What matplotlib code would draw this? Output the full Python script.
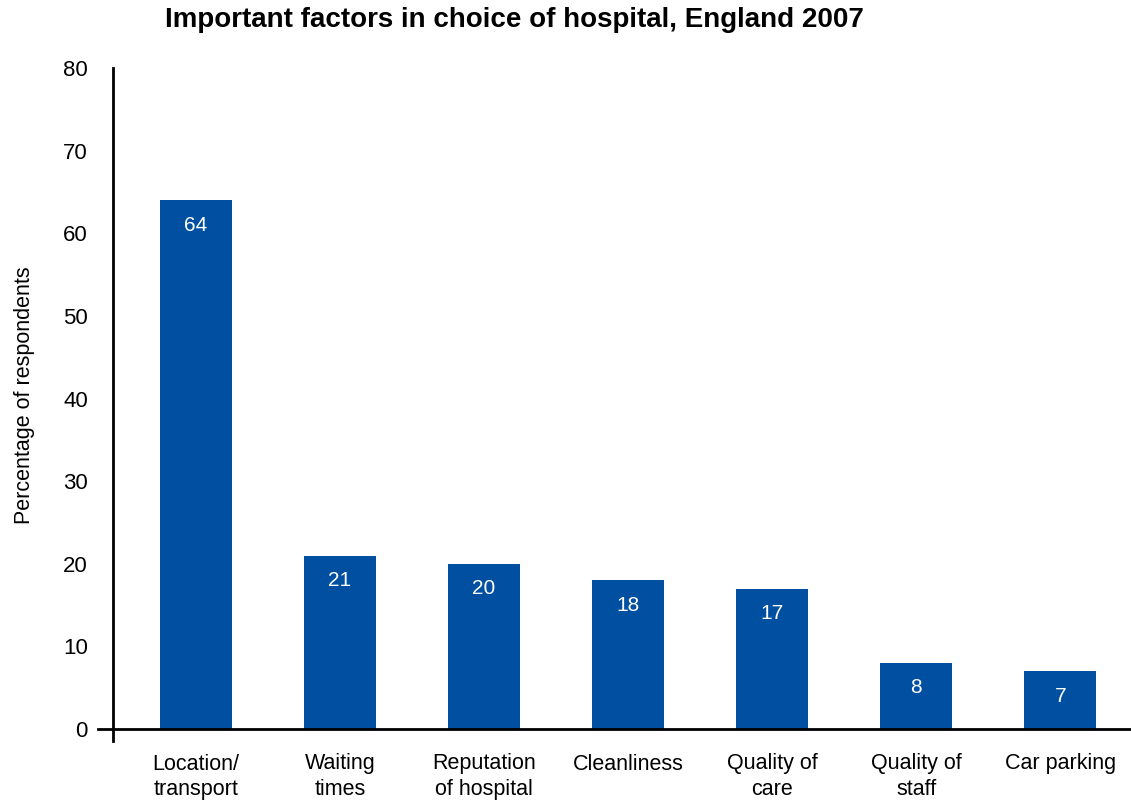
import matplotlib
matplotlib.use("Agg")
import matplotlib.pyplot as plt

categories = ["Location/\ntransport", "Waiting\ntimes", "Reputation\nof hospital",
              "Cleanliness", "Quality of\ncare", "Quality of\nstaff", "Car parking"]
values = [64, 21, 20, 18, 17, 8, 7]
yticks = [0, 10, 20, 30, 40, 50, 60, 70, 80]

plt.rcParams["font.family"] = ["Liberation Sans", "DejaVu Sans"]
bar_color = "#004FA0"

fig = plt.figure(figsize=(11.31, 8.0), dpi=100)
ax = fig.add_axes([113 / 1131, 1 - 741 / 800, 1 - 113 / 1131, (741 - 68) / 800])

x = list(range(len(categories)))
bars = ax.bar(x, values, width=0.5, color=bar_color, zorder=2)

for xi, v in zip(x, values):
    ax.annotate(str(v), (xi, v), xytext=(0, -18), textcoords="offset points",
                ha="center", va="center", color="white", fontsize=15)

ax.set_xlim(-0.576, 6.49)
ax.set_ylim(-1.45, 80)

for s in ax.spines.values():
    s.set_visible(False)
ax.spines["left"].set_visible(True)
ax.spines["left"].set_linewidth(2)
ax.spines["left"].set_bounds(-1.45, 80)

# baseline with a short stub to the left of the vertical axis
ax.plot([-0.68, 6.49], [0, 0], color="black", lw=2, clip_on=False, zorder=3)

ax.set_yticks(yticks)
ax.set_yticklabels([str(t) for t in yticks], fontsize=16)
ax.tick_params(axis="y", length=0, pad=18)
ax.set_xticks(x)
ax.set_xticklabels(categories, fontsize=15.5, linespacing=1.3)
ax.tick_params(axis="x", length=0, pad=9)

fig.text(25 / 1131, 1 - 395 / 800, "Percentage of respondents", rotation=90,
         ha="center", va="center", fontsize=15.5)

fig.text(514 / 1131, 1 - 20 / 800, "Important factors in choice of hospital, England 2007",
         ha="center", va="center", fontsize=20, fontweight="bold")

fig.savefig("out.png", dpi=100)
